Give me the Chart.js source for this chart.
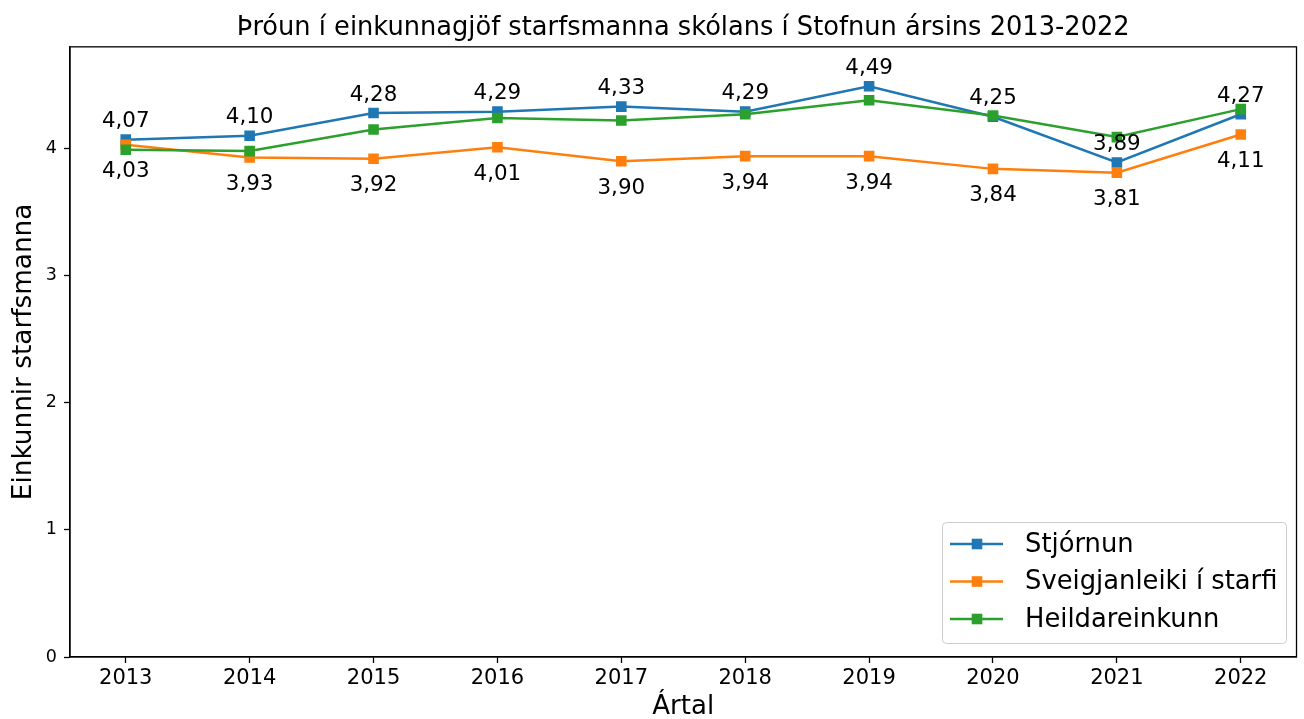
<!DOCTYPE html>
<html>
<head>
<meta charset="utf-8">
<title>Þróun í einkunnagjöf starfsmanna</title>
<script src="https://cdn.jsdelivr.net/npm/chart.js@4.4.1/dist/chart.umd.min.js"></script>
<style>
  html, body { margin: 0; padding: 0; background: #fff; }
  #wrap { width: 1304px; height: 719px; }
</style>
</head>
<body>
<div id="wrap"><canvas id="chart" width="1304" height="719"></canvas></div>
<script>
const years = [2013, 2014, 2015, 2016, 2017, 2018, 2019, 2020, 2021, 2022];
const stjornun = [4.07, 4.10, 4.28, 4.29, 4.33, 4.29, 4.49, 4.25, 3.89, 4.27];
const sveigjanleiki = [4.03, 3.93, 3.92, 4.01, 3.90, 3.94, 3.94, 3.84, 3.81, 4.11];
const heildareinkunn = [3.99, 3.98, 4.15, 4.24, 4.22, 4.27, 4.38, 4.26, 4.09, 4.31];
const yTicks = [0, 1, 2, 3, 4];
const seriesNames = ['Stjórnun', 'Sveigjanleiki í starfi', 'Heildareinkunn'];
const seriesColors = ['#1f77b4', '#ff7f0e', '#2ca02c'];

const FONT = "'DejaVu Sans', sans-serif";

function points(values) {
  return years.map((yr, i) => ({ x: yr, y: values[i] }));
}

function fmt(v) {
  return v.toFixed(2).replace('.', ',');
}

function makeDataset(idx, values, order) {
  return {
    label: seriesNames[idx],
    data: points(values),
    borderColor: seriesColors[idx],
    backgroundColor: seriesColors[idx],
    borderWidth: 2.5,
    pointStyle: 'rect',
    pointRadius: 7.5,
    pointHoverRadius: 7.5,
    pointBorderWidth: 0,
    pointBackgroundColor: seriesColors[idx],
    tension: 0,
    order: order
  };
}

// value labels: blue above its markers, orange below
const valueLabels = {
  id: 'valueLabels',
  afterDatasetsDraw(chart) {
    const ctx = chart.ctx;
    ctx.save();
    ctx.font = '21.4px ' + FONT;
    ctx.fillStyle = '#000';
    ctx.textAlign = 'center';
    ctx.textBaseline = 'middle';
    [[0, -18], [1, 27]].forEach(([dsIndex, dy]) => {
      const meta = chart.getDatasetMeta(dsIndex);
      const values = chart.data.datasets[dsIndex].data;
      meta.data.forEach((pt, i) => {
        ctx.fillText(fmt(values[i].y), pt.x, pt.y + dy);
      });
    });
    ctx.restore();
  }
};

// closes the axes box on top and right
const frame = {
  id: 'frame',
  afterDatasetsDraw(chart) {
    const a = chart.chartArea;
    const ctx = chart.ctx;
    ctx.save();
    ctx.strokeStyle = '#000';
    ctx.lineWidth = 1.3;
    ctx.strokeRect(a.left, a.top, a.right - a.left, a.bottom - a.top);
    ctx.restore();
  }
};

// legend box in the lower right of the plot
const boxLegend = {
  id: 'boxLegend',
  afterDraw(chart) {
    const ctx = chart.ctx;
    const x0 = 942, y0 = 522, w = 344, h = 121;
    ctx.save();
    ctx.beginPath();
    ctx.roundRect(x0 + 0.5, y0 + 0.5, w, h, 4);
    ctx.fillStyle = 'rgba(255,255,255,0.8)';
    ctx.fill();
    ctx.strokeStyle = '#cccccc';
    ctx.lineWidth = 1;
    ctx.stroke();

    ctx.font = '25.8px ' + FONT;
    ctx.textBaseline = 'middle';
    ctx.textAlign = 'left';
    chart.data.datasets.forEach((ds, i) => {
      const y = 544 + i * 37.5;
      ctx.strokeStyle = ds.borderColor;
      ctx.lineWidth = 2.5;
      ctx.beginPath();
      ctx.moveTo(950, y);
      ctx.lineTo(1003, y);
      ctx.stroke();
      ctx.fillStyle = ds.borderColor;
      ctx.fillRect(977 - 5.3, y - 5.3, 10.6, 10.6);
      ctx.fillStyle = '#000';
      ctx.fillText(ds.label, 1025, y + 1);
    });
    ctx.restore();
  }
};

const chart = new Chart(document.getElementById('chart'), {
  type: 'line',
  data: {
    datasets: [
      makeDataset(0, stjornun, 3),
      makeDataset(1, sveigjanleiki, 2),
      makeDataset(2, heildareinkunn, 1)
    ]
  },
  options: {
    responsive: false,
    devicePixelRatio: 1,
    animation: false,
    layout: { padding: { left: 0, right: 5, top: 0, bottom: 0 } },
    plugins: {
      legend: { display: false },
      tooltip: { enabled: false },
      title: {
        display: true,
        text: 'Þróun í einkunnagjöf starfsmanna skólans í Stofnun ársins 2013-2022',
        color: '#000',
        fullSize: false,
        font: { family: FONT, size: 25.7, weight: 'normal', lineHeight: 1.2 },
        padding: { top: 13, bottom: 3 }
      }
    },
    scales: {
      x: {
        type: 'linear',
        min: 2012.55,
        max: 2022.45,
        afterBuildTicks: (scale) => { scale.ticks = years.map(v => ({ value: v })); },
        afterFit: (scale) => { scale.height = 62; },
        grid: { drawOnChartArea: false, drawTicks: true, tickLength: 6, color: '#000', tickWidth: 1.3 },
        border: { display: true, color: '#000', width: 1.3 },
        ticks: {
          color: '#000',
          font: { family: FONT, size: 21 },
          padding: 3,
          maxRotation: 0,
          autoSkip: false,
          callback: (v) => String(v)
        },
        title: {
          display: true,
          text: 'Ártal',
          color: '#000',
          font: { family: FONT, size: 26, lineHeight: 0.9 },
          padding: { top: 0, bottom: 0 }
        }
      },
      y: {
        min: 0,
        max: 4.8,
        afterBuildTicks: (scale) => { scale.ticks = yTicks.map(v => ({ value: v })); },
        afterFit: (scale) => { scale.width = 70; },
        grid: { drawOnChartArea: false, drawTicks: true, tickLength: 6, color: '#000', tickWidth: 1.3 },
        border: { display: true, color: '#000', width: 1.3 },
        ticks: {
          color: '#000',
          font: { family: FONT, size: 17.5 },
          padding: 7,
          callback: (v) => String(v)
        },
        title: {
          display: true,
          text: 'Einkunnir starfsmanna',
          color: '#000',
          font: { family: FONT, size: 26.3, lineHeight: 1.2 },
          padding: { top: 8, bottom: 0 }
        }
      }
    }
  },
  plugins: [valueLabels, frame, boxLegend]
});
</script>
</body>
</html>
